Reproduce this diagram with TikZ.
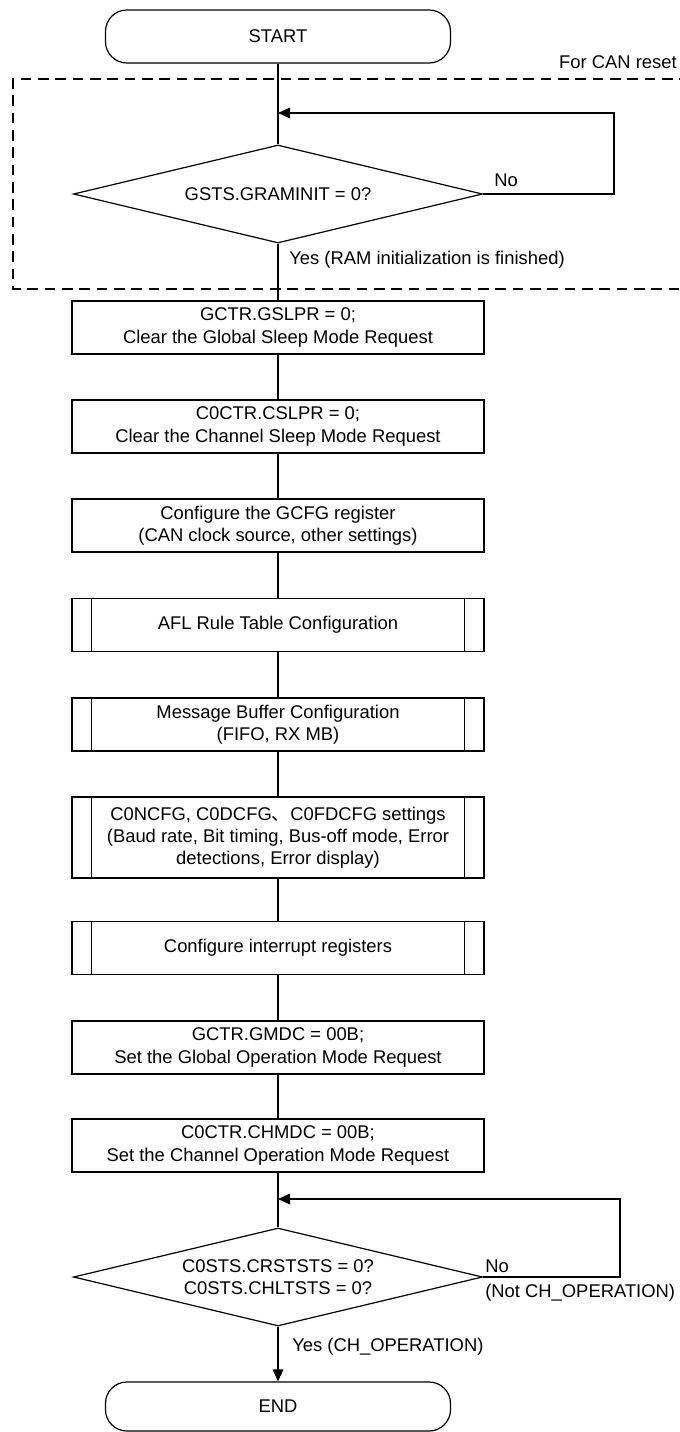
\documentclass[tikz,border=0pt]{standalone}
\usepackage{fontspec}
\setmainfont{Liberation Sans}
\newfontfamily\cjk{Noto Sans CJK JP}
\usepackage{tikz}
\usetikzlibrary{arrows.meta,shapes.geometric}
\tikzset{
  ln/.style={line width=0.9pt},
  ar/.style={-{Triangle[length=9pt,width=8pt]},line width=0.9pt},
  proc/.style={draw,line width=0.9pt,align=center,minimum width=309pt,minimum height=39.75pt,inner sep=0pt},
  term/.style={draw,line width=0.9pt,rounded corners=16pt,minimum width=258.75pt,minimum height=39.75pt},
  dec/.style={draw,diamond,aspect=4.17,line width=0.9pt,align=center,minimum width=306.75pt,minimum height=73.5pt,inner sep=0pt},
  frame/.style={line width=0.9pt,dash pattern=on 8pt off 5pt},
  lbl/.style={inner sep=0pt}
}

\begin{document}
\begin{tikzpicture}[x=0.75pt,y=-0.75pt,font=\fontsize{13.8}{16.7}\selectfont]
\useasboundingbox (0,0) rectangle (680,1432);
% reset part
\draw[frame] (690,79) -- (13,79) -- (13,289) -- (690,289);
\node[lbl,anchor=east] (rstlbl) at (677,62) {For CAN reset};
\node[term] (start) at (278,36.5) {START};
\node[dec] (d1) at (278,194) {GSTS.GRAMINIT = 0?};
\coordinate (j1) at (278,113);
\coordinate (k1) at (614,113);
\node[lbl,anchor=west] (no1) at (494,180) {No};
\node[lbl,anchor=west] (yes1) at (289,260) {Yes (RAM initialization is finished)};
% steps
\node[proc] (gslp) at (278,327.5) {GCTR.GSLPR = 0;\\Clear the Global Sleep Mode Request};
\node[proc] (cslp) at (278,426.5) {C0CTR.CSLPR = 0;\\Clear the Channel Sleep Mode Request};
\node[proc] (gcfg) at (278,525.5) {Configure the GCFG register\\(CAN clock source, other settings)};
\node[proc] (afl) at (278,625) {AFL Rule Table Configuration};
\node[proc] (mbuf) at (278,724.5) {Message Buffer Configuration\\(FIFO, RX MB)};
\node[proc,minimum height=60.75pt] (chcfg) at (278,837.5) {C0NCFG, C0DCFG{\cjk 、}C0FDCFG settings\\(Baud rate, Bit timing, Bus-off mode, Error\\detections, Error display)};
\node[proc] (intr) at (278,948) {Configure interrupt registers};
\node[proc] (gmdc) at (278,1047.5) {GCTR.GMDC = 00B;\\Set the Global Operation Mode Request};
\node[proc] (chmdc) at (278,1145.5) {C0CTR.CHMDC = 00B;\\Set the Channel Operation Mode Request};
\foreach \n in {afl,mbuf,chcfg,intr}{
  \draw[ln] ([xshift=15pt]\n.north west) -- ([xshift=15pt]\n.south west);
  \draw[ln] ([xshift=-15pt]\n.north east) -- ([xshift=-15pt]\n.south east);
}
% channel check
\node[dec] (d2) at (278,1277) {C0STS.CRSTSTS = 0?\\C0STS.CHLTSTS = 0?};
\coordinate (j2) at (278,1199);
\coordinate (k2) at (620,1199);
\node[lbl,anchor=west] (no2) at (485,1266) {No};
\node[lbl,anchor=west] (not2) at (485,1293) {(Not CH\_OPERATION)};
\node[lbl,anchor=west] (yes2) at (292,1347) {Yes (CH\_OPERATION)};
\node[term,minimum height=36.75pt] (fin) at (278,1406.5) {END};
% connectors
\draw[ln] (start) -- (d1);
\draw[ar] (d1.east) -| (k1) -- (j1);
\draw[ln] (d1) -- (gslp);
\draw[ln] (gslp) -- (cslp);
\draw[ln] (cslp) -- (gcfg);
\draw[ln] (gcfg) -- (afl);
\draw[ln] (afl) -- (mbuf);
\draw[ln] (mbuf) -- (chcfg);
\draw[ln] (chcfg) -- (intr);
\draw[ln] (intr) -- (gmdc);
\draw[ln] (gmdc) -- (chmdc);
\draw[ln] (chmdc) -- (d2);
\draw[ar] (d2.east) -| (k2) -- (j2);
\draw[ar] (d2) -- (fin);
\end{tikzpicture}
\end{document}
